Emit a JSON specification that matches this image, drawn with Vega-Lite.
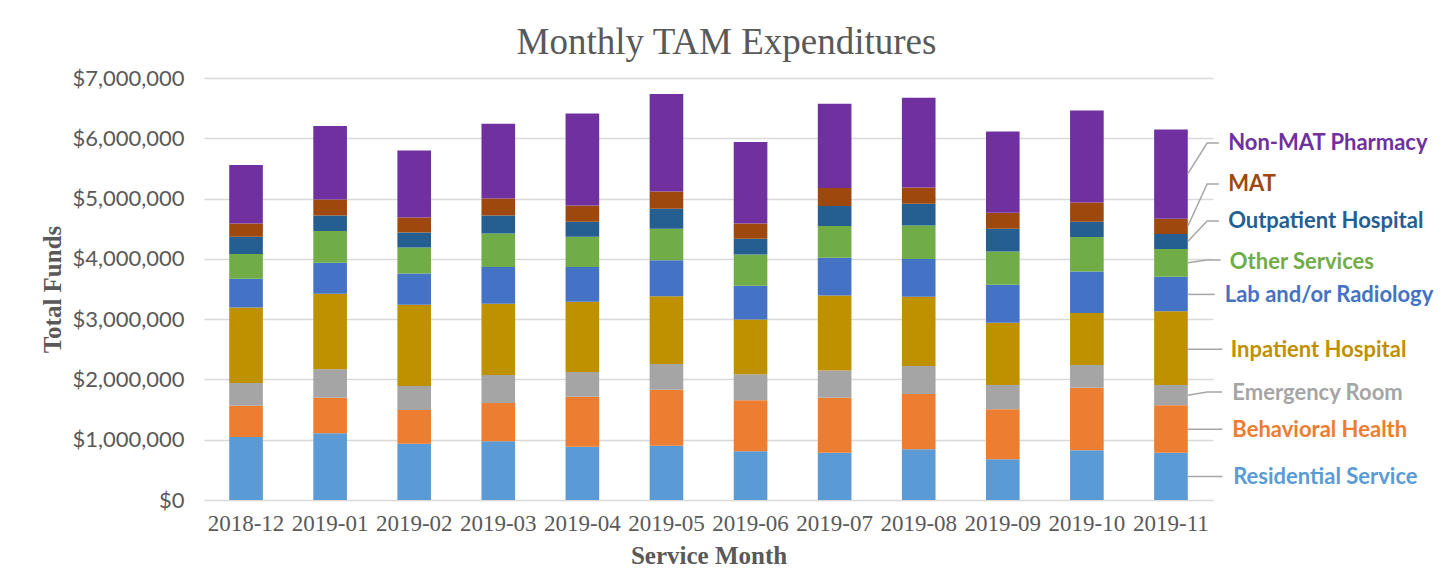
{
  "$schema": "https://vega.github.io/schema/vega-lite/v6.json",
  "width": 1009,
  "height": 422,
  "autosize": {"type": "none"},
  "padding": {"left": 204, "top": 78, "right": 240, "bottom": 80},
  "background": "white",
  "title": {"text": "Monthly TAM Expenditures", "font": "Liberation Serif", "fontSize": 37, "fontWeight": "normal", "color": "#595959", "anchor": "middle", "dx": 18, "offset": 5},
  "config": {
    "view": {"stroke": null},
    "axisY": {"labelFont": "Lato", "labelFontSize": 22, "labelColor": "#595959", "labelPadding": 20, "ticks": false, "domain": false, "grid": true, "gridColor": "#D9D9D9", "gridWidth": 1.5, "titleFont": "Liberation Serif", "titleFontSize": 25, "titleFontWeight": "bold", "titleColor": "#595959", "titlePadding": 6},
    "axisX": {"labelFont": "Liberation Serif", "labelFontSize": 23, "labelColor": "#595959", "labelAngle": 0, "ticks": false, "domain": false, "grid": false, "labelPadding": 12, "titleFont": "Liberation Serif", "titleFontSize": 25, "titleFontWeight": "bold", "titleColor": "#595959", "titlePadding": 8}
  },
  "datasets": {
    "categories": [
      {"c": "Residential Service", "o": 1},
      {"c": "Behavioral Health", "o": 2},
      {"c": "Emergency Room", "o": 3},
      {"c": "Inpatient Hospital", "o": 4},
      {"c": "Lab and/or Radiology", "o": 5},
      {"c": "Other Services", "o": 6},
      {"c": "Outpatient Hospital", "o": 7},
      {"c": "MAT", "o": 8},
      {"c": "Non-MAT Pharmacy", "o": 9}
    ],
    "bars": [
      {"m": "2018-12", "c": "Residential Service", "v": 1045000},
      {"m": "2018-12", "c": "Behavioral Health", "v": 519000},
      {"m": "2018-12", "c": "Emergency Room", "v": 376000},
      {"m": "2018-12", "c": "Inpatient Hospital", "v": 1255000},
      {"m": "2018-12", "c": "Lab and/or Radiology", "v": 476000},
      {"m": "2018-12", "c": "Other Services", "v": 409000},
      {"m": "2018-12", "c": "Outpatient Hospital", "v": 287000},
      {"m": "2018-12", "c": "MAT", "v": 221000},
      {"m": "2018-12", "c": "Non-MAT Pharmacy", "v": 968000},
      {"m": "2019-01", "c": "Residential Service", "v": 1106000},
      {"m": "2019-01", "c": "Behavioral Health", "v": 591000},
      {"m": "2019-01", "c": "Emergency Room", "v": 470000},
      {"m": "2019-01", "c": "Inpatient Hospital", "v": 1255000},
      {"m": "2019-01", "c": "Lab and/or Radiology", "v": 514000},
      {"m": "2019-01", "c": "Other Services", "v": 525000},
      {"m": "2019-01", "c": "Outpatient Hospital", "v": 260000},
      {"m": "2019-01", "c": "MAT", "v": 265000},
      {"m": "2019-01", "c": "Non-MAT Pharmacy", "v": 1216000},
      {"m": "2019-02", "c": "Residential Service", "v": 934000},
      {"m": "2019-02", "c": "Behavioral Health", "v": 559000},
      {"m": "2019-02", "c": "Emergency Room", "v": 398000},
      {"m": "2019-02", "c": "Inpatient Hospital", "v": 1348000},
      {"m": "2019-02", "c": "Lab and/or Radiology", "v": 520000},
      {"m": "2019-02", "c": "Other Services", "v": 431000},
      {"m": "2019-02", "c": "Outpatient Hospital", "v": 249000},
      {"m": "2019-02", "c": "MAT", "v": 249000},
      {"m": "2019-02", "c": "Non-MAT Pharmacy", "v": 1111000},
      {"m": "2019-03", "c": "Residential Service", "v": 973000},
      {"m": "2019-03", "c": "Behavioral Health", "v": 636000},
      {"m": "2019-03", "c": "Emergency Room", "v": 464000},
      {"m": "2019-03", "c": "Inpatient Hospital", "v": 1183000},
      {"m": "2019-03", "c": "Lab and/or Radiology", "v": 608000},
      {"m": "2019-03", "c": "Other Services", "v": 558000},
      {"m": "2019-03", "c": "Outpatient Hospital", "v": 299000},
      {"m": "2019-03", "c": "MAT", "v": 282000},
      {"m": "2019-03", "c": "Non-MAT Pharmacy", "v": 1238000},
      {"m": "2019-04", "c": "Residential Service", "v": 884000},
      {"m": "2019-04", "c": "Behavioral Health", "v": 830000},
      {"m": "2019-04", "c": "Emergency Room", "v": 409000},
      {"m": "2019-04", "c": "Inpatient Hospital", "v": 1166000},
      {"m": "2019-04", "c": "Lab and/or Radiology", "v": 575000},
      {"m": "2019-04", "c": "Other Services", "v": 503000},
      {"m": "2019-04", "c": "Outpatient Hospital", "v": 249000},
      {"m": "2019-04", "c": "MAT", "v": 271000},
      {"m": "2019-04", "c": "Non-MAT Pharmacy", "v": 1525000},
      {"m": "2019-05", "c": "Residential Service", "v": 901000},
      {"m": "2019-05", "c": "Behavioral Health", "v": 929000},
      {"m": "2019-05", "c": "Emergency Room", "v": 425000},
      {"m": "2019-05", "c": "Inpatient Hospital", "v": 1123000},
      {"m": "2019-05", "c": "Lab and/or Radiology", "v": 597000},
      {"m": "2019-05", "c": "Other Services", "v": 525000},
      {"m": "2019-05", "c": "Outpatient Hospital", "v": 331000},
      {"m": "2019-05", "c": "MAT", "v": 288000},
      {"m": "2019-05", "c": "Non-MAT Pharmacy", "v": 1614000},
      {"m": "2019-06", "c": "Residential Service", "v": 807000},
      {"m": "2019-06", "c": "Behavioral Health", "v": 846000},
      {"m": "2019-06", "c": "Emergency Room", "v": 431000},
      {"m": "2019-06", "c": "Inpatient Hospital", "v": 912000},
      {"m": "2019-06", "c": "Lab and/or Radiology", "v": 558000},
      {"m": "2019-06", "c": "Other Services", "v": 520000},
      {"m": "2019-06", "c": "Outpatient Hospital", "v": 260000},
      {"m": "2019-06", "c": "MAT", "v": 254000},
      {"m": "2019-06", "c": "Non-MAT Pharmacy", "v": 1349000},
      {"m": "2019-07", "c": "Residential Service", "v": 785000},
      {"m": "2019-07", "c": "Behavioral Health", "v": 912000},
      {"m": "2019-07", "c": "Emergency Room", "v": 453000},
      {"m": "2019-07", "c": "Inpatient Hospital", "v": 1244000},
      {"m": "2019-07", "c": "Lab and/or Radiology", "v": 625000},
      {"m": "2019-07", "c": "Other Services", "v": 525000},
      {"m": "2019-07", "c": "Outpatient Hospital", "v": 332000},
      {"m": "2019-07", "c": "MAT", "v": 298000},
      {"m": "2019-07", "c": "Non-MAT Pharmacy", "v": 1399000},
      {"m": "2019-08", "c": "Residential Service", "v": 840000},
      {"m": "2019-08", "c": "Behavioral Health", "v": 918000},
      {"m": "2019-08", "c": "Emergency Room", "v": 464000},
      {"m": "2019-08", "c": "Inpatient Hospital", "v": 1150000},
      {"m": "2019-08", "c": "Lab and/or Radiology", "v": 625000},
      {"m": "2019-08", "c": "Other Services", "v": 558000},
      {"m": "2019-08", "c": "Outpatient Hospital", "v": 359000},
      {"m": "2019-08", "c": "MAT", "v": 271000},
      {"m": "2019-08", "c": "Non-MAT Pharmacy", "v": 1487000},
      {"m": "2019-09", "c": "Residential Service", "v": 674000},
      {"m": "2019-09", "c": "Behavioral Health", "v": 830000},
      {"m": "2019-09", "c": "Emergency Room", "v": 403000},
      {"m": "2019-09", "c": "Inpatient Hospital", "v": 1034000},
      {"m": "2019-09", "c": "Lab and/or Radiology", "v": 630000},
      {"m": "2019-09", "c": "Other Services", "v": 553000},
      {"m": "2019-09", "c": "Outpatient Hospital", "v": 376000},
      {"m": "2019-09", "c": "MAT", "v": 265000},
      {"m": "2019-09", "c": "Non-MAT Pharmacy", "v": 1349000},
      {"m": "2019-10", "c": "Residential Service", "v": 824000},
      {"m": "2019-10", "c": "Behavioral Health", "v": 1039000},
      {"m": "2019-10", "c": "Emergency Room", "v": 376000},
      {"m": "2019-10", "c": "Inpatient Hospital", "v": 862000},
      {"m": "2019-10", "c": "Lab and/or Radiology", "v": 691000},
      {"m": "2019-10", "c": "Other Services", "v": 570000},
      {"m": "2019-10", "c": "Outpatient Hospital", "v": 254000},
      {"m": "2019-10", "c": "MAT", "v": 320000},
      {"m": "2019-10", "c": "Non-MAT Pharmacy", "v": 1526000},
      {"m": "2019-11", "c": "Residential Service", "v": 785000},
      {"m": "2019-11", "c": "Behavioral Health", "v": 785000},
      {"m": "2019-11", "c": "Emergency Room", "v": 337000},
      {"m": "2019-11", "c": "Inpatient Hospital", "v": 1222000},
      {"m": "2019-11", "c": "Lab and/or Radiology", "v": 575000},
      {"m": "2019-11", "c": "Other Services", "v": 459000},
      {"m": "2019-11", "c": "Outpatient Hospital", "v": 248000},
      {"m": "2019-11", "c": "MAT", "v": 255000},
      {"m": "2019-11", "c": "Non-MAT Pharmacy", "v": 1481000}
    ],
    "leaders": [
      {"c": "Non-MAT Pharmacy", "x": 11.7, "v": 5410000},
      {"c": "Non-MAT Pharmacy", "x": 11.93, "v": 5921000},
      {"c": "Non-MAT Pharmacy", "x": 12.07, "v": 5921000},
      {"c": "MAT", "x": 11.7, "v": 4540000},
      {"c": "MAT", "x": 11.93, "v": 5241000},
      {"c": "MAT", "x": 12.07, "v": 5241000},
      {"c": "Outpatient Hospital", "x": 11.7, "v": 4287000},
      {"c": "Outpatient Hospital", "x": 11.93, "v": 4628000},
      {"c": "Outpatient Hospital", "x": 12.07, "v": 4628000},
      {"c": "Other Services", "x": 11.7, "v": 3934000},
      {"c": "Other Services", "x": 11.93, "v": 3981000},
      {"c": "Other Services", "x": 12.09, "v": 3981000},
      {"c": "Lab and/or Radiology", "x": 11.7, "v": 3410000},
      {"c": "Lab and/or Radiology", "x": 12.02, "v": 3410000},
      {"c": "Inpatient Hospital", "x": 11.7, "v": 2500000},
      {"c": "Inpatient Hospital", "x": 12.11, "v": 2500000},
      {"c": "Emergency Room", "x": 11.7, "v": 1739000},
      {"c": "Emergency Room", "x": 11.93, "v": 1791000},
      {"c": "Emergency Room", "x": 12.11, "v": 1791000},
      {"c": "Behavioral Health", "x": 11.7, "v": 1175000},
      {"c": "Behavioral Health", "x": 12.11, "v": 1175000},
      {"c": "Residential Service", "x": 11.7, "v": 390000},
      {"c": "Residential Service", "x": 12.11, "v": 390000}
    ],
    "labels": [
      {"c": "Non-MAT Pharmacy", "x": 12.18, "v": 5921000},
      {"c": "MAT", "x": 12.18, "v": 5241000},
      {"c": "Outpatient Hospital", "x": 12.18, "v": 4628000},
      {"c": "Other Services", "x": 12.2, "v": 3948000},
      {"c": "Lab and/or Radiology", "x": 12.14, "v": 3395000},
      {"c": "Inpatient Hospital", "x": 12.21, "v": 2490000},
      {"c": "Emergency Room", "x": 12.23, "v": 1770000},
      {"c": "Behavioral Health", "x": 12.23, "v": 1161000},
      {"c": "Residential Service", "x": 12.24, "v": 381000}
    ]
  },
  "layer": [
    {
      "data": {"name": "bars"},
      "transform": [
        {"lookup": "c", "from": {"data": {"name": "categories"}, "key": "c", "fields": ["o"]}}
      ],
      "mark": {"type": "bar"},
      "encoding": {
        "x": {"field": "m", "type": "nominal", "title": "Service Month", "scale": {"paddingInner": 0.6, "paddingOuter": 0.3}},
        "y": {"field": "v", "type": "quantitative", "title": "Total Funds", "scale": {"domain": [0, 7000000], "nice": false}, "axis": {"values": [0, 1000000, 2000000, 3000000, 4000000, 5000000, 6000000, 7000000], "format": "$,.0f"}},
        "order": {"field": "o", "type": "quantitative", "sort": "ascending"},
        "color": {"field": "c", "type": "nominal", "legend": null,
          "scale": {"domain": ["Residential Service", "Behavioral Health", "Emergency Room", "Inpatient Hospital", "Lab and/or Radiology", "Other Services", "Outpatient Hospital", "MAT", "Non-MAT Pharmacy"],
            "range": ["#5B9BD5", "#ED7D31", "#A5A5A5", "#BF9000", "#4472C4", "#70AD47", "#255E91", "#9E480E", "#7030A0"]}}
      }
    },
    {
      "data": {"name": "leaders"},
      "mark": {"type": "line", "color": "#A6A6A6", "strokeWidth": 1.5},
      "encoding": {
        "x": {"field": "x", "type": "quantitative", "scale": {"domain": [0, 12], "nice": false, "zero": false}, "axis": null},
        "y": {"field": "v", "type": "quantitative", "title": "Total Funds"},
        "detail": {"field": "c", "type": "nominal"}
      }
    },
    {
      "data": {"name": "labels"},
      "mark": {"type": "text", "align": "left", "baseline": "middle", "font": "Lato", "fontWeight": "bold", "fontSize": 22},
      "encoding": {
        "x": {"field": "x", "type": "quantitative", "scale": {"domain": [0, 12], "nice": false, "zero": false}, "axis": null},
        "y": {"field": "v", "type": "quantitative", "title": "Total Funds"},
        "text": {"field": "c", "type": "nominal"},
        "color": {"field": "c", "type": "nominal", "legend": null}
      }
    }
  ],
  "resolve": {"scale": {"x": "independent"}}
}
